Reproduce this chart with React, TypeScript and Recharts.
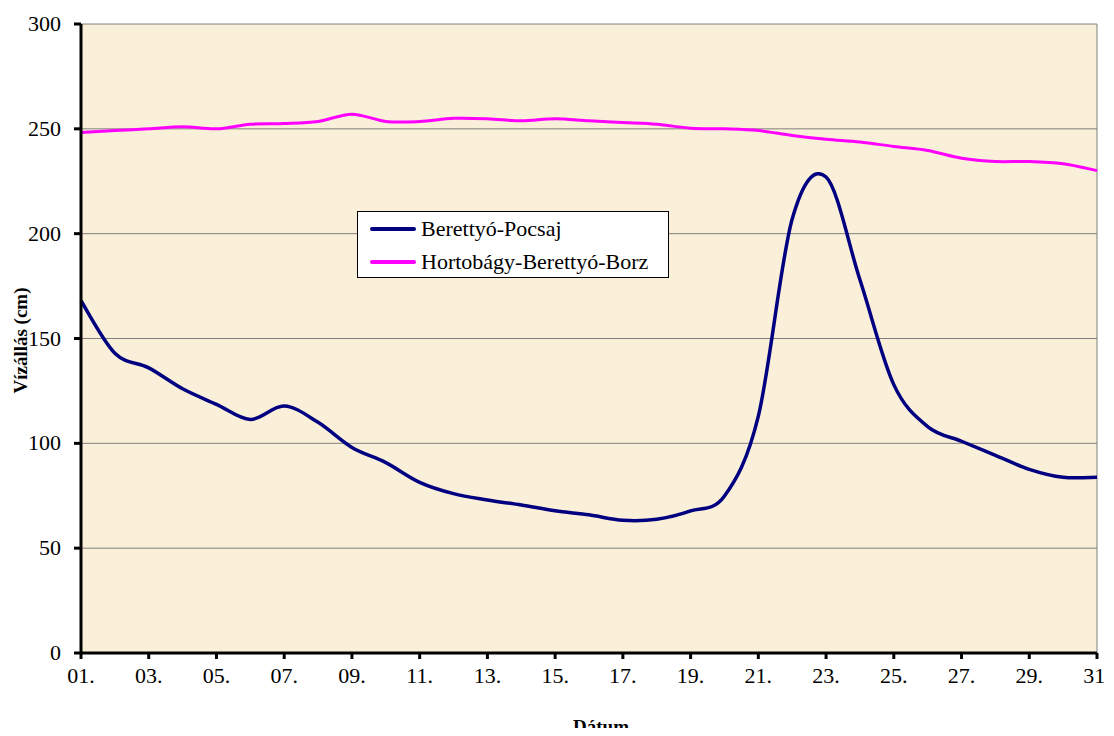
import React from 'react';
import { LineChart, Line, XAxis, YAxis, CartesianGrid, Legend } from 'recharts';

const days = [1, 2, 3, 4, 5, 6, 7, 8, 9, 10, 11, 12, 13, 14, 15, 16, 17, 18, 19, 20, 21, 22, 23, 24, 25, 26, 27, 28, 29, 30, 31];
const pocsaj = [168, 143, 136, 126, 118.6, 111.4, 117.8, 110, 98, 90.8, 81.4, 76, 73, 70.6, 67.8, 65.9, 63.3, 63.8, 67.8, 74.9, 113, 207, 227, 178, 128, 108, 101, 94.3, 87.6, 83.8, 83.8];
const borz = [248.2, 249.2, 250, 251, 250, 252.2, 252.5, 253.5, 257, 253.5, 253.5, 255, 254.8, 253.8, 254.8, 253.8, 253, 252.2, 250.3, 250, 249.2, 246.8, 245, 243.7, 241.6, 239.7, 236, 234.4, 234.4, 233.3, 230.1];
const seriesNames = ['Berettyó-Pocsaj', 'Hortobágy-Berettyó-Borz'];
const seriesColors = ['#000080', '#FF00FF'];
const yTicks = [0, 50, 100, 150, 200, 250, 300];
const xTicks = [1, 3, 5, 7, 9, 11, 13, 15, 17, 19, 21, 23, 25, 27, 29, 31];
const yTitle = 'Vízállás (cm)';
const xTitle = 'Dátum';

const data = days.map((d, i) => ({ day: d, pocsaj: pocsaj[i], borz: borz[i] }));

const FONT = '"Liberation Serif", "Times New Roman", serif';

// Excel-like smoothed line (uniform Catmull-Rom as cubic Bezier)
function excelSmooth(context: any) {
  let xs: number[] = [];
  let ys: number[] = [];
  return {
    areaStart() {},
    areaEnd() {},
    lineStart() {
      xs = [];
      ys = [];
    },
    point(x: number, y: number) {
      xs.push(+x);
      ys.push(+y);
    },
    lineEnd() {
      const n = xs.length;
      if (!n) return;
      context.moveTo(xs[0], ys[0]);
      for (let i = 0; i < n - 1; i++) {
        const i0 = Math.max(0, i - 1);
        const i2 = i + 1;
        const i3 = Math.min(n - 1, i + 2);
        const c1x = xs[i] + (xs[i2] - xs[i0]) / 6;
        const c1y = ys[i] + (ys[i2] - ys[i0]) / 6;
        const c2x = xs[i2] - (xs[i3] - xs[i]) / 6;
        const c2y = ys[i2] - (ys[i3] - ys[i]) / 6;
        context.bezierCurveTo(c1x, c1y, c2x, c2y, xs[i2], ys[i2]);
      }
    },
  };
}

const XTick = (props: any) => {
  const { x, y, payload } = props;
  return (
    <text x={x} y={y + 14} textAnchor="middle" fontFamily={FONT} fontSize={22} fill="#000">
      {String(payload.value).padStart(2, '0') + '.'}
    </text>
  );
};

const YTick = (props: any) => {
  const { x, y, payload } = props;
  return (
    <text x={x} y={y + 7} textAnchor="end" fontFamily={FONT} fontSize={22} fill="#000">
      {payload.value}
    </text>
  );
};

const LegendBox = () => (
  <div
    style={{
      border: '1px solid #000',
      background: '#fff',
      width: 310,
      height: 65,
      boxSizing: 'content-box',
      fontFamily: FONT,
      fontSize: 22,
      color: '#000',
      position: 'relative',
    }}
  >
    {seriesNames.map((name, i) => (
      <div
        key={name}
        style={{
          position: 'absolute',
          left: 12,
          top: 4 + i * 33,
          height: 26,
          display: 'flex',
          alignItems: 'center',
          whiteSpace: 'nowrap',
        }}
      >
        <span
          style={{
            display: 'inline-block',
            width: 46,
            height: 4,
            borderRadius: 2,
            background: seriesColors[i],
            marginRight: 5,
          }}
        />
        <span>{name}</span>
      </div>
    ))}
  </div>
);

export default function App() {
  return (
    <div style={{ width: 1114, height: 736, margin: -8, fontFamily: FONT }}>
      <LineChart
        width={1114}
        height={736}
        data={data}
        margin={{ top: 24, right: 17, left: 8, bottom: 0 }}
      >
        <CartesianGrid
          fill="#FAEFD8"
          stroke="#808080"
          strokeWidth={1}
          vertical={true}
          horizontal={true}
          verticalCoordinatesGenerator={(p: any) => [p.offset.left + p.offset.width]}
        />
        <XAxis
          dataKey="day"
          type="number"
          domain={[1, 31]}
          ticks={xTicks}
          interval={0}
          allowDecimals={false}
          axisLine={{ stroke: '#000', strokeWidth: 3 }}
          tickLine={{ stroke: '#000', strokeWidth: 3 }}
          tickSize={6}
          tickMargin={10}
          height={83}
          tick={<XTick />}
          label={{
            content: (props: any) => {
              const vb = props.viewBox || {};
              return (
                <text
                  x={vb.x + vb.width / 2 + 12}
                  y={vb.y + 73}
                  textAnchor="middle"
                  dominantBaseline="central"
                  fontFamily={FONT}
                  fontWeight="bold"
                  fontSize={19}
                  fill="#000"
                >
                  {xTitle}
                </text>
              );
            },
          }}
        />
        <YAxis
          type="number"
          domain={[0, 300]}
          ticks={yTicks}
          interval={0}
          width={73}
          axisLine={{ stroke: '#000', strokeWidth: 3 }}
          tickLine={{ stroke: '#000', strokeWidth: 3 }}
          tickSize={7}
          tickMargin={13}
          tick={<YTick />}
          label={{
            content: (props: any) => {
              const vb = props.viewBox || {};
              const cx = vb.x + 12;
              const cy = vb.y + vb.height / 2 + 2;
              return (
                <text
                  x={cx}
                  y={cy}
                  transform={`rotate(-90, ${cx}, ${cy})`}
                  textAnchor="middle"
                  dominantBaseline="central"
                  fontFamily={FONT}
                  fontWeight="bold"
                  fontSize={19}
                  fill="#000"
                >
                  {yTitle}
                </text>
              );
            },
          }}
        />
        <Legend
          layout="horizontal"
          verticalAlign="middle"
          align="center"
          content={() => <LegendBox />}
          wrapperStyle={{ left: 357, top: 211, width: 312, height: 67, right: 'auto', bottom: 'auto' }}
        />
        <Line
          dataKey="pocsaj"
          name={seriesNames[0]}
          stroke={seriesColors[0]}
          strokeWidth={3.5}
          dot={false}
          activeDot={false}
          type={excelSmooth as any}
          isAnimationActive={false}
        />
        <Line
          dataKey="borz"
          name={seriesNames[1]}
          stroke={seriesColors[1]}
          strokeWidth={3}
          dot={false}
          activeDot={false}
          type={excelSmooth as any}
          isAnimationActive={false}
        />
      </LineChart>
    </div>
  );
}
